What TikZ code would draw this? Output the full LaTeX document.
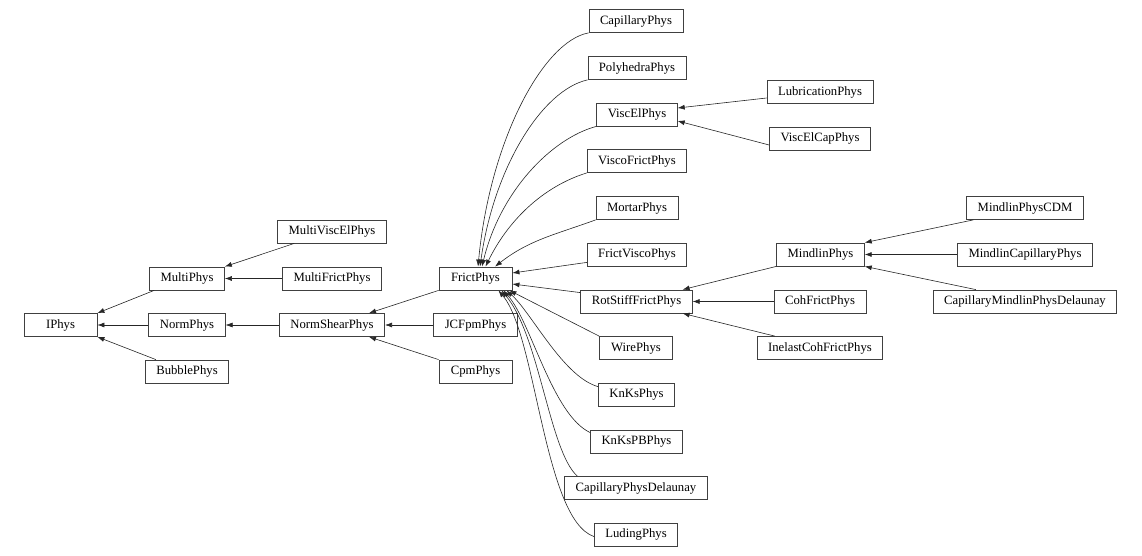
\documentclass[tikz,border=0pt]{standalone}
\usepackage{fontspec}
\setmainfont{Liberation Serif}
\usepackage{tikz}
\usetikzlibrary{arrows.meta, positioning}

\begin{document}
\begin{tikzpicture}[
        x=1pt, y=1pt,
        cls/.style={draw=black!75, line width=0.8pt, rectangle, minimum height=23pt, minimum width=73pt, inner xsep=11pt, inner ysep=2pt, align=center, font=\fontsize{12.7}{14}\selectfont},
        inherit/.style={draw=black!85, line width=0.6pt, -{Latex[length=7pt, width=5pt]}}
    ]
        \useasboundingbox (0,0) rectangle (1142,-556);

        % Base classes
        \node[cls] (IPhys) at (60.5,-325) {IPhys};
        \node[cls] (MultiPhys) at (187,-278.5) {MultiPhys};
        \node[cls] (NormPhys) at (187,-325) {NormPhys};
        \node[cls] (BubblePhys) at (187,-371.5) {BubblePhys};
        \node[cls] (MultiViscElPhys) at (332,-231.5) {MultiViscElPhys};
        \node[cls] (MultiFrictPhys) at (332,-278.5) {MultiFrictPhys};
        \node[cls] (NormShearPhys) at (332,-325) {NormShearPhys};
        \node[cls] (FrictPhys) at (475.5,-278.5) {FrictPhys};
        \node[cls] (JCFpmPhys) at (475.5,-325) {JCFpmPhys};
        \node[cls] (CpmPhys) at (475.5,-371.5) {CpmPhys};

        % Children of FrictPhys
        \node[cls] (CapillaryPhys) at (636,-21) {CapillaryPhys};
        \node[cls] (PolyhedraPhys) at (637,-68) {PolyhedraPhys};
        \node[cls] (ViscElPhys) at (637,-114.5) {ViscElPhys};
        \node[cls] (ViscoFrictPhys) at (637,-161) {ViscoFrictPhys};
        \node[cls] (MortarPhys) at (637,-208) {MortarPhys};
        \node[cls] (FrictViscoPhys) at (637,-254.5) {FrictViscoPhys};
        \node[cls] (RotStiffFrictPhys) at (636.5,-301.5) {RotStiffFrictPhys};
        \node[cls] (WirePhys) at (636,-348) {WirePhys};
        \node[cls] (KnKsPhys) at (636.5,-394.5) {KnKsPhys};
        \node[cls] (KnKsPBPhys) at (636.5,-441.5) {KnKsPBPhys};
        \node[cls] (CapillaryPhysDelaunay) at (636,-488) {CapillaryPhysDelaunay};
        \node[cls] (LudingPhys) at (636,-534.5) {LudingPhys};

        % Third level
        \node[cls] (LubricationPhys) at (820,-92) {LubricationPhys};
        \node[cls] (ViscElCapPhys) at (820,-138.5) {ViscElCapPhys};
        \node[cls] (MindlinPhys) at (820.5,-254.5) {MindlinPhys};
        \node[cls] (CohFrictPhys) at (820,-301.5) {CohFrictPhys};
        \node[cls] (InelastCohFrictPhys) at (820,-348) {InelastCohFrictPhys};
        \node[cls] (MindlinPhysCDM) at (1025,-208) {MindlinPhysCDM};
        \node[cls] (MindlinCapillaryPhys) at (1025,-254.5) {MindlinCapillaryPhys};
        \node[cls] (CapillaryMindlinPhysDelaunay) at (1025,-301.5) {CapillaryMindlinPhysDelaunay};

        % Left part
        \draw[inherit] ([xshift=5pt]MultiPhys.south west) -- (IPhys.north east);
        \draw[inherit] (NormPhys.west) -- (IPhys.east);
        \draw[inherit] ([xshift=11pt]BubblePhys.north west) -- (IPhys.south east);
        \draw[inherit] ([xshift=17pt]MultiViscElPhys.south west) -- (MultiPhys.north east);
        \draw[inherit] (MultiFrictPhys.west) -- (MultiPhys.east);
        \draw[inherit] (NormShearPhys.west) -- (NormPhys.east);
        \draw[inherit] (FrictPhys.south west) -- ([xshift=-16pt]NormShearPhys.north east);
        \draw[inherit] (JCFpmPhys.west) -- (NormShearPhys.east);
        \draw[inherit] (CpmPhys.north west) -- ([xshift=-16pt]NormShearPhys.south east);

        % Into FrictPhys from above
        \draw[inherit] (CapillaryPhys.south west) .. controls +(-45,-8) and +(12,127) .. ([xshift=2.5pt]FrictPhys.north);
        \draw[inherit] (PolyhedraPhys.south west) .. controls +(-45,-10) and +(14,100) .. ([xshift=4.5pt]FrictPhys.north);
        \draw[inherit] (ViscElPhys.south west) .. controls +(-45,-12) and +(18,75) .. ([xshift=6.5pt]FrictPhys.north);
        \draw[inherit] (ViscoFrictPhys.south west) .. controls +(-45,-14) and +(22,45) .. ([xshift=10pt]FrictPhys.north);
        \draw[inherit] (MortarPhys.south west) to[out=200, in=38] ([xshift=19.5pt]FrictPhys.north);
        \draw[inherit] ([yshift=4pt]FrictViscoPhys.south west) -- ([yshift=5.5pt]FrictPhys.east);
        \draw[inherit] ([yshift=-3pt]RotStiffFrictPhys.north west) -- ([yshift=-5.5pt]FrictPhys.east);

        % Into FrictPhys from below
        \draw[inherit] (WirePhys.north west) -- ([xshift=-3pt]FrictPhys.south east);
        \draw[inherit] ([yshift=-4pt]KnKsPhys.north west) .. controls +(-35,10) and +(25,-22) .. ([xshift=-6pt]FrictPhys.south east);
        \draw[inherit] ([yshift=-3pt]KnKsPBPhys.north west) .. controls +(-38,18) and +(28,-32) .. ([xshift=-9pt]FrictPhys.south east);
        \draw[inherit] ([xshift=13pt]CapillaryPhysDelaunay.north west) .. controls +(-28,25) and +(38,-45) .. ([xshift=-11pt]FrictPhys.south east);
        \draw[inherit] ([yshift=-2pt]LudingPhys.west) .. controls +(-50,17) and +(38,-45) .. ([xshift=-14pt]FrictPhys.south east);

        % Right part
        \draw[inherit] ([yshift=-6pt]LubricationPhys.west) -- ([yshift=6.5pt]ViscElPhys.east);
        \draw[inherit] ([yshift=-6.5pt]ViscElCapPhys.west) -- ([yshift=-6.5pt]ViscElPhys.east);
        \draw[inherit] (MindlinPhys.south west) -- ([xshift=-10pt]RotStiffFrictPhys.north east);
        \draw[inherit] (CohFrictPhys.west) -- (RotStiffFrictPhys.east);
        \draw[inherit] ([xshift=18pt]InelastCohFrictPhys.north west) -- ([xshift=-10pt]RotStiffFrictPhys.south east);
        \draw[inherit] ([xshift=7pt]MindlinPhysCDM.south west) -- (MindlinPhys.north east);
        \draw[inherit] (MindlinCapillaryPhys.west) -- (MindlinPhys.east);
        \draw[inherit] ([xshift=43pt]CapillaryMindlinPhysDelaunay.north west) -- (MindlinPhys.south east);

    \end{tikzpicture}
\end{document}
